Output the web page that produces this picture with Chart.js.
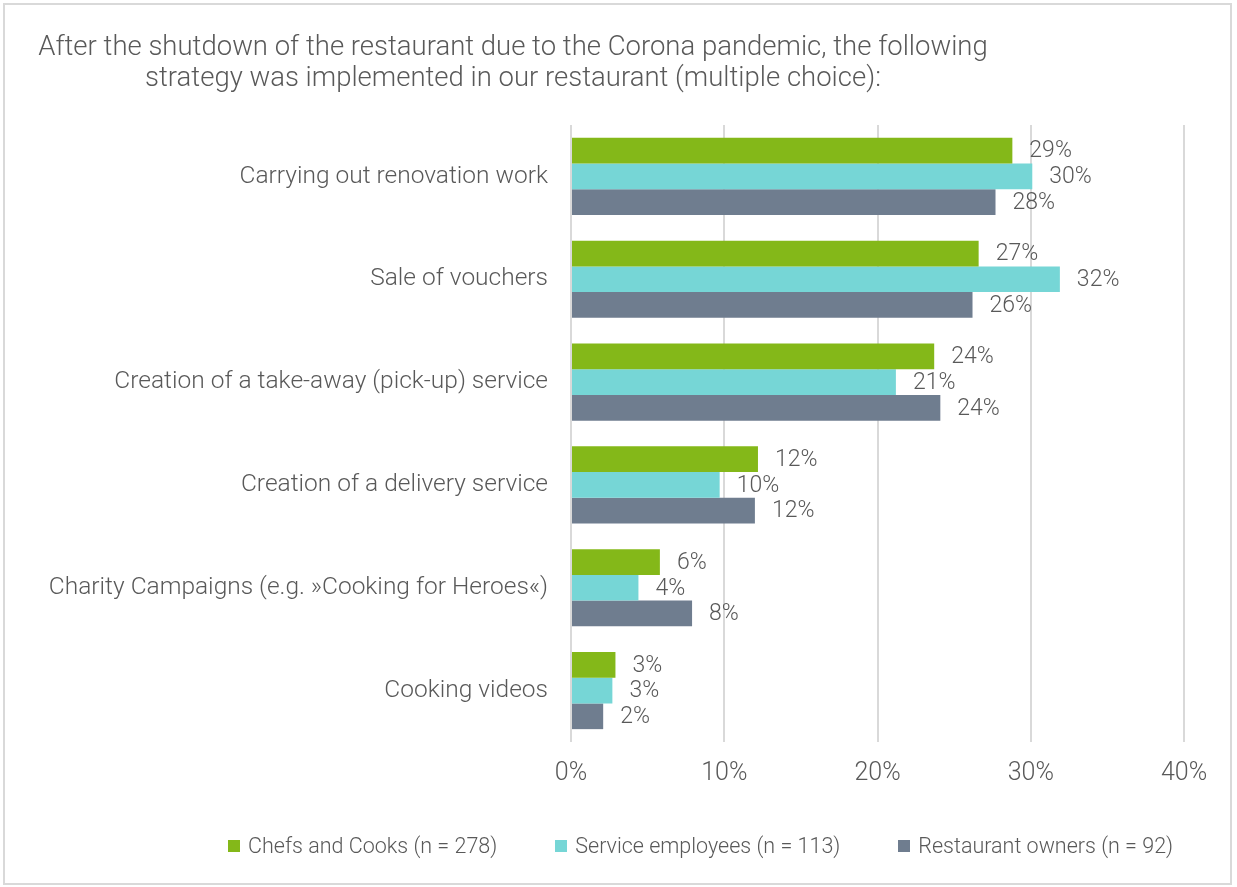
<!DOCTYPE html>
<html>
<head>
<meta charset="utf-8">
<script src="https://cdn.jsdelivr.net/npm/chart.js@4/dist/chart.umd.min.js"></script>
<style>
  html, body { margin: 0; padding: 0; background: #fff; }
  body { width: 1237px; height: 887px; position: relative; overflow: hidden; font-family: Roboto, "Noto Sans", sans-serif; font-weight: 300; color: #595959; }
  #frame { position: absolute; left: 3px; top: 3px; width: 1225px; height: 878px; border: 2px solid #d9d9d9; }
  #wrap { position: absolute; left: 0; top: 0; width: 1237px; height: 887px; }
  #title { position: absolute; left: 13px; width: 1000px; top: 30px; text-align: center; font-size: 27.5px; line-height: 31px; }
  #legend { position: absolute; left: 228px; top: 833px; display: flex; gap: 58px; font-size: 21.5px; }
  #legend span.item { display: flex; align-items: center; }
  #legend i { display: inline-block; width: 12px; height: 12px; margin-right: 8px; }
</style>
</head>
<body>
<div id="frame"></div>
<div id="wrap"><canvas id="chart" width="1237" height="887"></canvas></div>
<div id="title">After the shutdown of the restaurant due to the Corona pandemic, the following<br>strategy was implemented in our restaurant (multiple choice):</div>
<div id="legend"></div>
<script>
// 項目とシリーズ
const categories = [
  'Carrying out renovation work',
  'Sale of vouchers',
  'Creation of a take-away (pick-up) service',
  'Creation of a delivery service',
  'Charity Campaigns (e.g. »Cooking for Heroes«)',
  'Cooking videos'
];
const seriesNames = ['Chefs and Cooks (n = 278)', 'Service employees (n = 113)', 'Restaurant owners (n = 92)'];
const chefs = [28.8, 26.6, 23.7, 12.2, 5.8, 2.9];
const service = [30.1, 31.9, 21.2, 9.7, 4.4, 2.7];
const owners = [27.7, 26.2, 24.1, 12.0, 7.9, 2.1];
const xTicks = [0, 10, 20, 30, 40];
const colors = ['#84b819', '#76d6d6', '#6f7d8f'];

const textColor = '#595959';
const fontFamily = 'Roboto, "Noto Sans", sans-serif';

// 凡例（HTML）
document.getElementById('legend').innerHTML = seriesNames.map((n, i) =>
  `<span class="item"><i style="background:${colors[i]}"></i>${n}</span>`).join('');

// 値ラベル
const valueLabels = {
  id: 'valueLabels',
  afterDatasetsDraw(chart) {
    const ctx = chart.ctx;
    ctx.save();
    ctx.font = `300 23px ${fontFamily}`;
    ctx.fillStyle = textColor;
    ctx.textAlign = 'left';
    ctx.textBaseline = 'middle';
    chart.data.datasets.forEach((ds, di) => {
      chart.getDatasetMeta(di).data.forEach((el, i) => {
        ctx.fillText(Math.round(ds.data[i]) + '%', el.x + 17, el.y + 1);
      });
    });
    ctx.restore();
  }
};

new Chart(document.getElementById('chart'), {
  type: 'bar',
  data: {
    labels: categories,
    datasets: [
      { label: seriesNames[0], data: chefs, backgroundColor: colors[0] },
      { label: seriesNames[1], data: service, backgroundColor: colors[1] },
      { label: seriesNames[2], data: owners, backgroundColor: colors[2] },
    ],
  },
  options: {
    indexAxis: 'y',
    responsive: false,
    animation: false,
    layout: { padding: { left: 0, right: 53, top: 125, bottom: 81 } },
    datasets: { bar: { categoryPercentage: 0.75, barPercentage: 1.0 } },
    scales: {
      x: {
        min: 0,
        max: 40,
        afterBuildTicks: s => { s.ticks = xTicks.map(v => ({ value: v })); },
        ticks: {
          callback: v => v + '%',
          color: textColor,
          padding: 17,
          font: { family: fontFamily, size: 25, weight: 300 },
        },
        grid: { color: '#d9d9d9', lineWidth: 2, drawTicks: false },
        border: { display: false },
      },
      y: {
        afterFit: s => { s.width = 571; },
        ticks: {
          color: textColor,
          padding: 15,
          font: { family: fontFamily, size: 24.5, weight: 300 },
        },
        grid: { display: false },
        border: { display: false },
      },
    },
    plugins: {
      legend: { display: false },
      tooltip: { enabled: false },
    },
  },
  plugins: [valueLabels],
});
</script>
</body>
</html>
